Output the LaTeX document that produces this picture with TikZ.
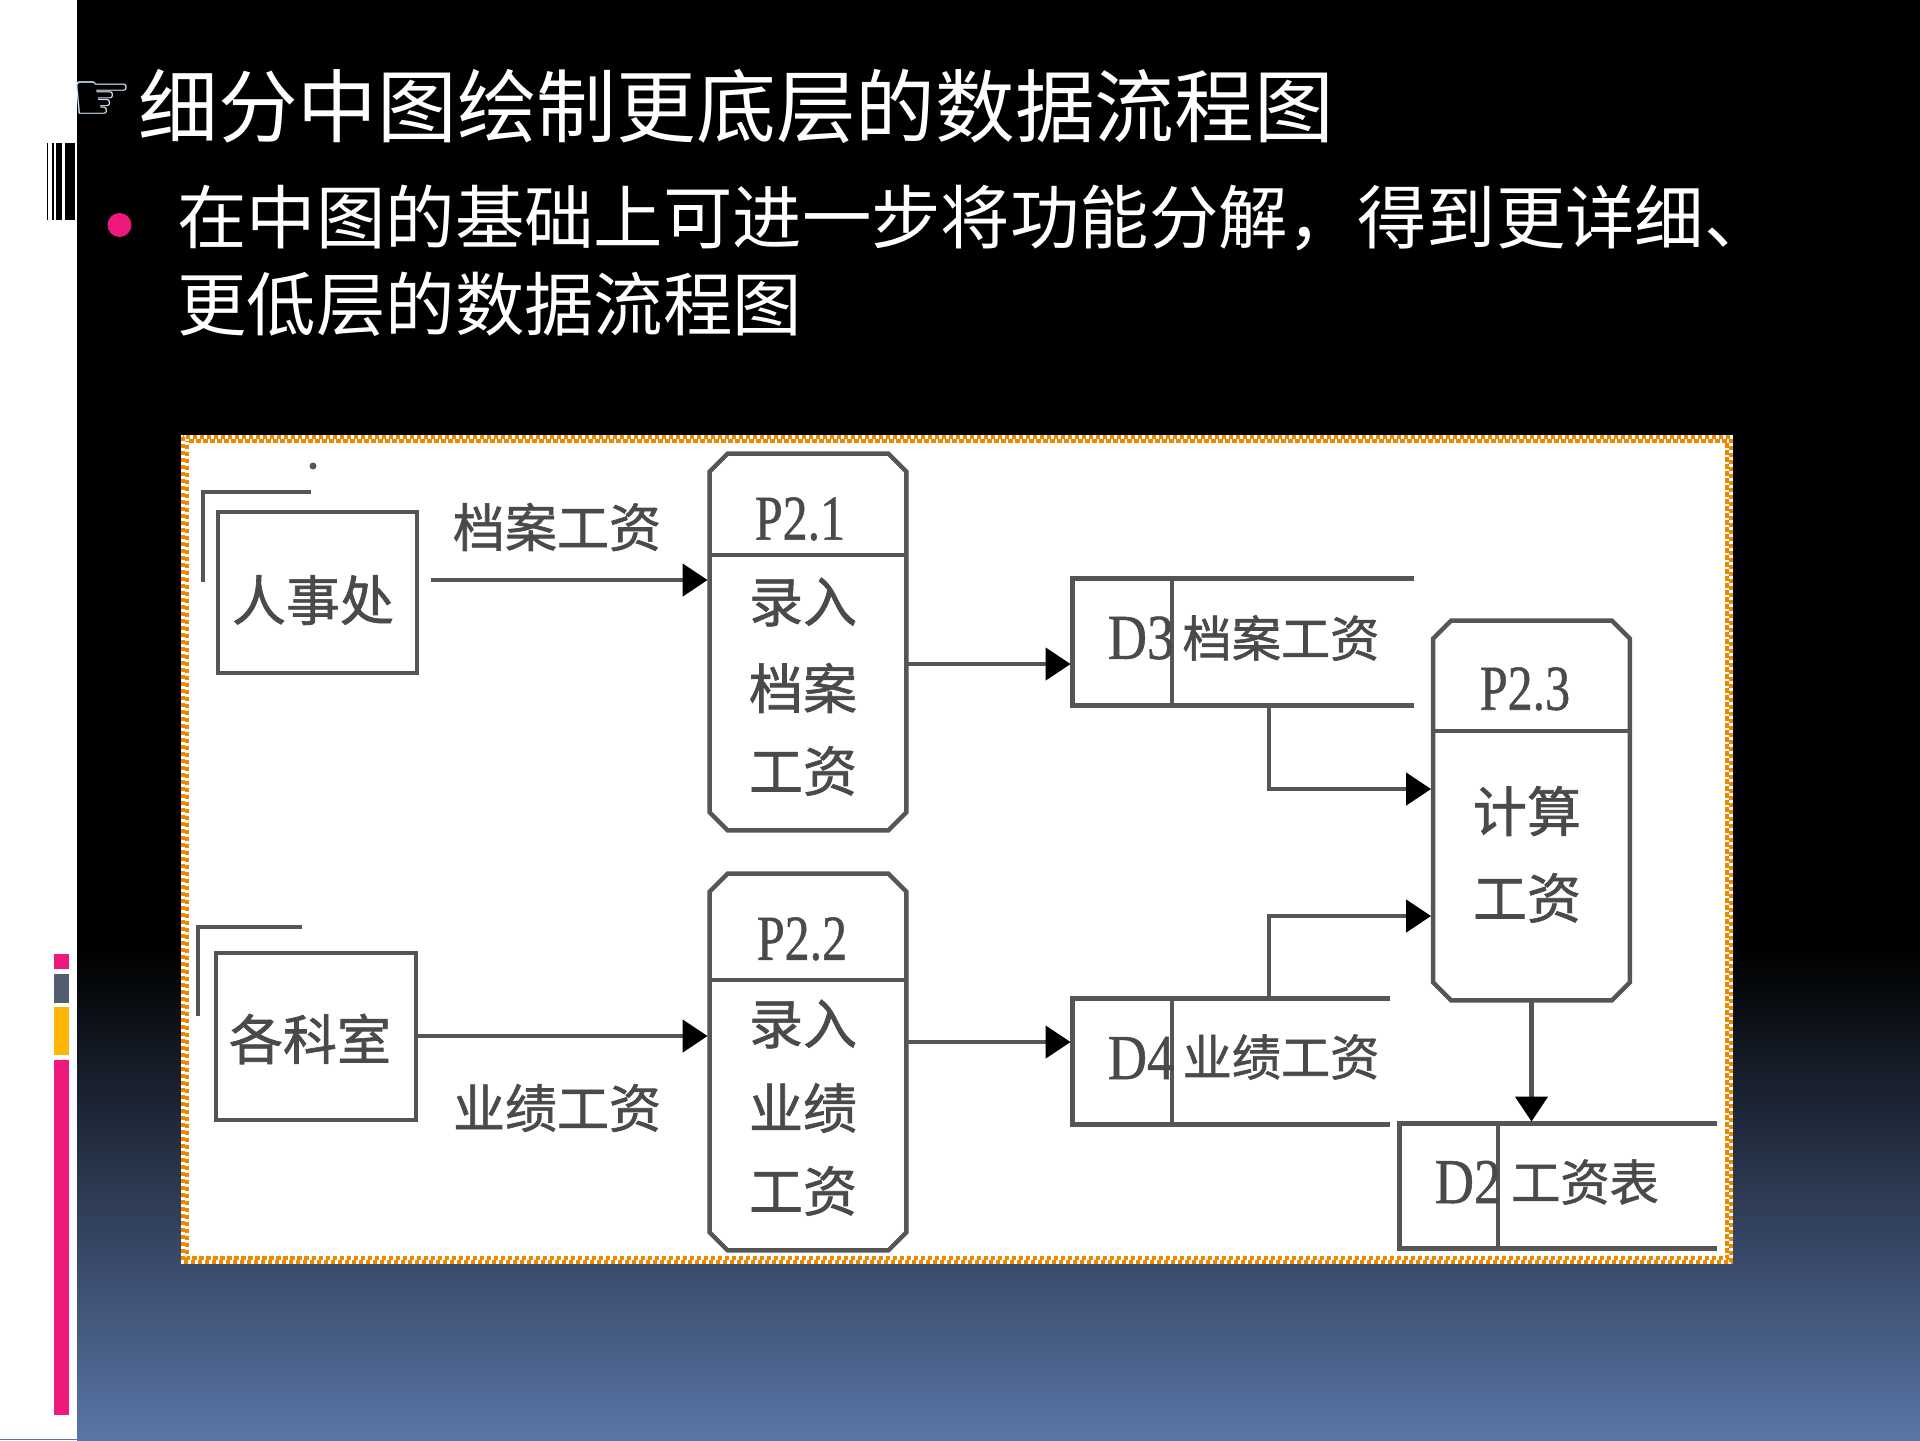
\documentclass[tikz,border=0pt]{standalone}
\usepackage{fontspec}
\setmainfont{Liberation Serif}
\newfontfamily\cjk{Noto Sans CJK SC}
\newfontfamily\cjkheavy[FakeBold=1.2]{Noto Sans CJK SC}
\newfontfamily\tagfont[FakeBold=0.8]{Liberation Serif}
\newfontfamily\symb{DejaVu Sans}
\usetikzlibrary{arrows.meta,calc}
\definecolor{ink}{HTML}{555555}
\definecolor{inktext}{HTML}{4A4A4A}
\definecolor{pinkbar}{HTML}{ED1A7C}
\definecolor{slatebar}{HTML}{505E70}
\definecolor{amberbar}{HTML}{FFB606}
\definecolor{checker}{HTML}{EE8800}
\definecolor{gradend}{HTML}{5A75A6}
\definecolor{handblue}{HTML}{CFE6FA}
\newcommand{\chamferbox}[1]{%
  \draw[line] ($(#1.north west)+(18,0)$) -- ($(#1.north east)+(-18,0)$) -- ($(#1.north east)+(0,18)$)
    -- ($(#1.south east)+(0,-18)$) -- ($(#1.south east)+(-18,0)$) -- ($(#1.south west)+(18,0)$)
    -- ($(#1.south west)+(0,-18)$) -- ($(#1.north west)+(0,18)$) -- cycle;}
\tikzset{
  x=0.5pt,y=-0.5pt,
  line/.style={draw=ink,line width=2.2pt},
  flow/.style={line,shorten >=1pt,-{Triangle[length=12.5pt,width=16pt,color=black]}},
  proc/.style={rectangle,inner sep=0pt,minimum width=98pt,minimum height=188pt},
  ent/.style={rectangle,line,inner sep=0pt},
  ghost/.style={rectangle,inner sep=0pt},
  lab/.style={text=inktext,inner sep=0pt,font=\cjkheavy\fontsize{27}{27}\selectfont},
  flowlab/.style={text=inktext,inner sep=0pt,font=\cjkheavy\fontsize{26}{26}\selectfont},
  storelab/.style={text=inktext,inner sep=0pt,font=\cjkheavy\fontsize{24.6}{25}\selectfont},
  tag/.style={text=inktext,inner sep=0pt,font=\tagfont\fontsize{32}{32}\selectfont},
  head/.style={text=white,inner sep=0pt,anchor=west,font=\cjk\fontsize{39.85}{40}\selectfont},
  para/.style={text=white,inner sep=0pt,anchor=west,font=\cjk\fontsize{34.7}{35}\selectfont},
  checkrow/.style={draw=checker,line width=2pt,dash pattern=on 2.2pt off 1.3pt},
}
\begin{document}
\begin{tikzpicture}
\useasboundingbox (0,0) rectangle (1920,1440);
% background
\fill[white] (0,0) rectangle (1920,1440);
\fill[black] (77,0) rectangle (1920,950);
\shade[top color=black,bottom color=gradend] (77,950) rectangle (1920,1440);
\fill[gradend] (0,1439) rectangle (77,1440);
% side decoration
\fill[black] (47,143) rectangle (48.3,220);
\fill[black] (51.7,143) rectangle (54,220);
\fill[black] (56,143) rectangle (62,220);
\fill[black] (65,143) rectangle (75,220);
\fill[pinkbar] (54,954) rectangle (69,969);
\fill[slatebar] (54,974) rectangle (69,1003);
\fill[amberbar] (54,1007) rectangle (69,1055);
\fill[pinkbar] (54,1060) rectangle (69,1415);
% heading
\node[text=handblue,inner sep=0pt,font=\symb\fontsize{35}{35}\selectfont] (hand) at (102,102) {☞};
\node[head] (title) at (138,106) {细分中图绘制更底层的数据流程图};
\fill[pinkbar] (119.5,225) circle (12);
\node[para] (line1) at (177,218) {在中图的基础上可进一步将功能分解，得到更详细、};
\node[para] (line2) at (177,304) {更低层的数据流程图};
% panel
\fill[white] (181,435) rectangle (1733,1264);
\draw[checkrow] (183,437) rectangle (1731,1262);
\draw[checkrow,dash phase=1.75pt] (187,441) rectangle (1727,1258);
% external entities
\node[ent,minimum width=99.5pt,minimum height=80.5pt] (rs) at (317.5,592.5) {};
\node[lab] (rstext) at (313,600) {人事处};
\draw[line] (203,582) -- (203,492) -- (311,492);
\fill[ink] (313,466) circle (3.5);
\node[ent,minimum width=100pt,minimum height=83.5pt] (ks) at (316,1036.5) {};
\node[lab] (kstext) at (310,1039) {各科室};
\draw[line] (198,1016) -- (198,927) -- (302,927);
% processes
\node[proc] (p21) at (808,642) {};
\node[proc] (p22) at (808,1062) {};
\node[proc,minimum height=189.5pt] (p23) at (1531.5,810.5) {};
\chamferbox{p21}
\chamferbox{p22}
\chamferbox{p23}
\draw[line] (p21.west |- 0,555) -- (p21.east |- 0,555);
\draw[line] (p22.west |- 0,980) -- (p22.east |- 0,980);
\draw[line] (p23.west |- 0,731) -- (p23.east |- 0,731);
\node[tag] at (800,519) {\scalebox{.78}[1]{P2.1}};
\node[lab] at (803,602) {录入};
\node[lab] at (803,688) {档案};
\node[lab] at (803,771) {工资};
\node[tag] at (802,939) {\scalebox{.78}[1]{P2.2}};
\node[lab] at (803,1024) {录入};
\node[lab] at (803,1108) {业绩};
\node[lab] at (803,1191) {工资};
\node[tag] at (1525,689) {\scalebox{.78}[1]{P2.3}};
\node[lab] at (1527,811) {计算};
\node[lab] at (1527,898) {工资};
% data stores
\node[ghost,minimum width=170.5pt,minimum height=63pt] (d3) at (1243.5,642) {};
\node[ghost,minimum width=158.5pt,minimum height=62.5pt] (d4) at (1231.5,1061.5) {};
\node[ghost,minimum width=158.5pt,minimum height=62pt] (d2) at (1558.5,1186) {};
\draw[line] (d3.north east) -- (d3.north west) -- (d3.south west) -- (d3.south east);
\draw[line] (1172,579) -- (1172,705);
\draw[line] (d4.north east) -- (d4.north west) -- (d4.south west) -- (d4.south east);
\draw[line] (1172,999) -- (1172,1124);
\draw[line] (d2.north east) -- (d2.north west) -- (d2.south west) -- (d2.south east);
\draw[line] (1498,1124) -- (1498,1248);
\node[tag] at (1141,638) {\scalebox{.85}[1]{D3}};
\node[storelab] at (1281,638) {档案工资};
\node[tag] at (1141,1058) {\scalebox{.85}[1]{D4}};
\node[storelab] at (1281,1057) {业绩工资};
\node[tag] at (1468,1182) {\scalebox{.85}[1]{D2}};
\node[storelab] at (1585,1182) {工资表};
% flow labels
\node[flowlab] at (557,527) {档案工资};
\node[flowlab] at (557,1108) {业绩工资};
% connectors
\coordinate (rsout) at (431,580);
\coordinate (d3tap) at (1269,705);
\coordinate (d4tap) at (1269,999);
\draw[flow] (rsout) -- (rsout -| p21.west);
\draw[flow] (ks.east |- 0,1036) -- (p22.west |- 0,1036);
\draw[flow] (p21.east |- 0,664) -- (d3.west |- 0,664);
\draw[flow] (p22.east |- 0,1042) -- (d4.west |- 0,1042);
\draw[flow] (d3tap) |- (p23.west |- 0,789);
\draw[flow] (d4tap) |- (p23.west |- 0,916);
\draw[flow] (p23.south) -- (p23.south |- d2.north);
\end{tikzpicture}
\end{document}
